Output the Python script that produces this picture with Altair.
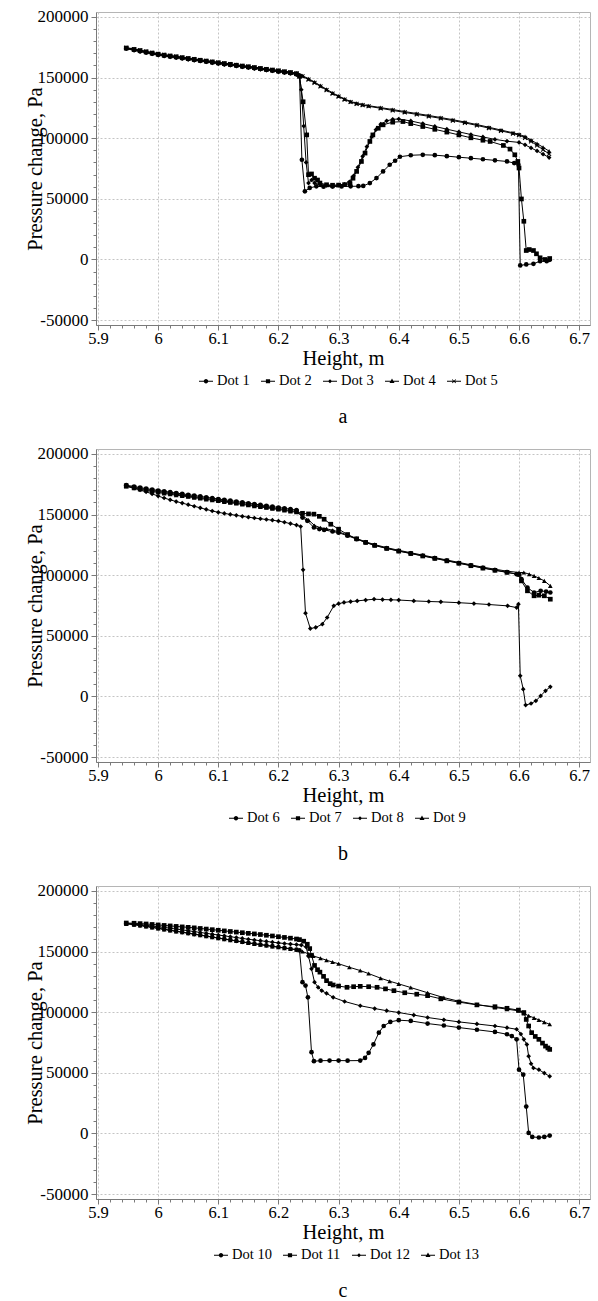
import altair as alt
import pandas as pd

FONT = "Liberation Serif"

# ---------------- shared x grid for the part before the first drop ----------------
pre_x = [5.947, 5.96, 5.97, 5.98, 5.99, 6.00, 6.01, 6.02, 6.03, 6.04, 6.05, 6.06, 6.07, 6.08,
         6.09, 6.10, 6.11, 6.12, 6.13, 6.14, 6.15, 6.16, 6.17, 6.18, 6.19, 6.20, 6.21, 6.22, 6.23]

# ---------------- panel a ----------------
a_pre_1 = [174000, 172700, 171700, 170700, 169700, 168800, 168000, 167300, 166600, 165900, 165200, 164500, 163800, 163100,
           162400, 161700, 161000, 160400, 159700, 159000, 158400, 157700, 157000, 156300, 155700, 155000, 154300, 153600, 152700]
a_pre_2 = [174300, 173100, 172100, 171100, 170100, 169200, 168400, 167700, 167000, 166300, 165600, 164900, 164200, 163500,
           162800, 162100, 161400, 160800, 160100, 159400, 158800, 158100, 157400, 156700, 156100, 155400, 154700, 154000, 153100]
a_pre_3 = [173700, 172400, 171400, 170400, 169400, 168500, 167700, 167000, 166300, 165600, 164900, 164200, 163500, 162800,
           162100, 161400, 160700, 160100, 159400, 158700, 158100, 157400, 156700, 156000, 155400, 154700, 154000, 153300, 152400]
a_pre_4 = [174600, 173600, 172600, 171600, 170600, 169700, 168900, 168200, 167500, 166800, 166100, 165400, 164700, 164000,
           163300, 162600, 161900, 161300, 160600, 159900, 159300, 158600, 157900, 157200, 156600, 155900, 155200, 154500, 153600]
a_pre_5 = [174400, 173300, 172300, 171300, 170300, 169400, 168600, 167900, 167200, 166500, 165800, 165100, 164400, 163700,
           163000, 162300, 161600, 161000, 160300, 159600, 159000, 158300, 157600, 156900, 156300, 155600, 154900, 154200, 153300]

dot1_x = [6.235, 6.239, 6.244, 6.252, 6.263, 6.275, 6.29, 6.305, 6.32, 6.333, 6.341, 6.352, 6.363, 6.374, 6.385, 6.394, 6.402,
          6.42, 6.44, 6.46, 6.48, 6.50, 6.52, 6.54, 6.56, 6.58, 6.592, 6.599, 6.602, 6.612, 6.624, 6.635, 6.646, 6.651]
dot1_y = [151500, 82200, 56200, 59000, 60300, 60000, 60100, 60200, 60300, 60400, 60600, 63000, 67100, 72600, 78100, 81400, 84700,
          85900, 86300, 86000, 85200, 84300, 83500, 82600, 81700, 80800, 79500, 78100, -4900, -4100, -3600, -1400, -1400, -300]

dot2_x = [6.235, 6.241, 6.247, 6.250, 6.255, 6.260, 6.265, 6.269, 6.28, 6.29, 6.30, 6.31, 6.319, 6.324, 6.33, 6.338, 6.344,
          6.352, 6.357, 6.366, 6.374, 6.39, 6.407, 6.42, 6.44, 6.46, 6.48, 6.50, 6.52, 6.54, 6.552, 6.574, 6.585, 6.593,
          6.598, 6.600, 6.604, 6.608, 6.612, 6.617, 6.624, 6.629, 6.635, 6.643, 6.651]
dot2_y = [151000, 130000, 102700, 69900, 70500, 67000, 65500, 63000, 61600, 61200, 61300, 61700, 62500, 67000, 72600, 80800,
          87700, 97300, 102700, 108200, 111000, 113200, 113700, 112000, 109600, 107300, 105000, 102700, 100300, 98300, 97300,
          94000, 91000, 86300, 80800, 75400, 49900, 31500, 7400, 8200, 7400, 4700, 1400, 0, 800]

dot3_x = [6.235, 6.238, 6.242, 6.246, 6.250, 6.255, 6.260, 6.27, 6.28, 6.29, 6.30, 6.31, 6.318, 6.325, 6.332, 6.34, 6.347,
          6.355, 6.362, 6.37, 6.38, 6.39, 6.40, 6.42, 6.44, 6.46, 6.48, 6.50, 6.52, 6.54, 6.56, 6.58, 6.60, 6.61, 6.62,
          6.63, 6.64, 6.65]
dot3_y = [151800, 140000, 110000, 80000, 63000, 65500, 63000, 61500, 61000, 61000, 61300, 62000, 64000, 69000, 76000, 85000,
          93000, 101000, 107000, 111500, 114300, 115500, 115800, 114200, 112000, 109700, 107400, 105200, 103000, 101000,
          99000, 97500, 96500, 94500, 92000, 89500, 86800, 84000]

dot45_x = [6.24, 6.25, 6.26, 6.27, 6.28, 6.29, 6.30, 6.31, 6.32, 6.33, 6.34, 6.35, 6.37, 6.39, 6.41, 6.43, 6.45, 6.47,
           6.49, 6.51, 6.53, 6.55, 6.57, 6.59, 6.60, 6.61, 6.62, 6.63, 6.64, 6.65]
dot4_y = [151500, 149000, 146300, 143300, 140300, 137300, 134800, 132300, 130300, 128800, 127700, 126800, 125200, 123600,
          121900, 120300, 118700, 117000, 115200, 113300, 111200, 109000, 106700, 104400, 103200, 101300, 98500, 95500,
          92500, 89300]
dot5_y = [151000, 148300, 145600, 142600, 139600, 136700, 134200, 131800, 129800, 128300, 127200, 126300, 124600, 122900,
          121200, 119600, 118000, 116300, 114500, 112600, 110500, 108300, 106000, 103800, 102500, 100300, 97300, 94000,
          90500, 87000]

# ---------------- panel b ----------------
b_pre_6 = [174200, 173000, 172100, 171300, 170500, 169800, 169100, 168400, 167700, 167000, 166300, 165600, 164900, 164200,
           163500, 162800, 162100, 161400, 160700, 160000, 159300, 158600, 157900, 157200, 156500, 155800, 155100, 154400, 153600]
b_pre_7 = [173600, 172300, 171400, 170500, 169700, 169000, 168200, 167500, 166800, 166000, 165300, 164600, 163900, 163200,
           162500, 161800, 161100, 160400, 159700, 159000, 158300, 157600, 156900, 156200, 155500, 154800, 154100, 153300, 152500]
b_pre_8 = [173600, 171700, 170200, 168700, 167000, 165200, 163600, 162100, 160700, 159400, 158100, 156800, 155500, 154200,
           152900, 151800, 150900, 150100, 149300, 148500, 147800, 147100, 146500, 145900, 145300, 144600, 143600, 142500, 141300]
b_pre_9 = [173200, 171700, 170700, 169800, 169000, 168200, 167400, 166700, 166000, 165300, 164600, 163900, 163200, 162500,
           161800, 161100, 160400, 159700, 159000, 158300, 157600, 156900, 156200, 155500, 154800, 154100, 153400, 152600, 151800]

dot6_x = [6.24, 6.248, 6.259, 6.268, 6.276, 6.29, 6.30, 6.315, 6.33, 6.345, 6.36, 6.38, 6.40, 6.42, 6.44, 6.46, 6.48, 6.50,
          6.52, 6.54, 6.56, 6.58, 6.596, 6.604, 6.614, 6.625, 6.636, 6.645, 6.652]
dot6_y = [147500, 144800, 139300, 138000, 137300, 136000, 135000, 132500, 129700, 127000, 124700, 122200, 120000, 118000,
          116000, 114000, 112000, 110000, 108000, 106000, 104200, 102400, 100800, 96700, 89800, 85700, 87100, 86500, 85700]

dot7_x = [6.24, 6.25, 6.259, 6.268, 6.276, 6.287, 6.30, 6.315, 6.33, 6.345, 6.36, 6.38, 6.40, 6.42, 6.44, 6.46, 6.48, 6.50,
          6.52, 6.54, 6.56, 6.58, 6.60, 6.604, 6.614, 6.625, 6.633, 6.642, 6.652]
dot7_y = [151000, 150500, 150300, 148500, 146100, 142000, 137900, 133500, 130000, 127000, 124500, 122000, 119800, 117800,
          115800, 113800, 111800, 109800, 107800, 105800, 104000, 102300, 100600, 95300, 87100, 83000, 83500, 83000, 80200]

dot8_x = [6.237, 6.241, 6.245, 6.253, 6.262, 6.273, 6.281, 6.292, 6.30, 6.309, 6.32, 6.331, 6.345, 6.359, 6.373, 6.387, 6.40,
          6.425, 6.45, 6.47, 6.50, 6.525, 6.55, 6.581, 6.596, 6.599, 6.602, 6.607, 6.611, 6.62, 6.628, 6.636, 6.644, 6.652]
dot8_y = [140100, 104400, 68700, 56000, 56900, 59600, 65100, 74700, 76500, 77500, 78200, 78800, 79500, 80200, 79900, 79700,
          79500, 78800, 78300, 78000, 77300, 76600, 75800, 74700, 73300, 76100, 17000, 6000, -7100, -5800, -3600, 500, 4700, 8000]

dot9_x = [6.24, 6.25, 6.26, 6.27, 6.28, 6.29, 6.30, 6.315, 6.33, 6.345, 6.36, 6.38, 6.40, 6.42, 6.44, 6.46, 6.48, 6.50,
          6.52, 6.54, 6.56, 6.58, 6.60, 6.608, 6.617, 6.625, 6.633, 6.642, 6.652]
dot9_y = [149000, 145500, 141000, 139000, 138200, 137000, 135800, 133000, 130200, 127500, 125200, 122700, 120500, 118500,
          116500, 114500, 112500, 110500, 108500, 106600, 104900, 103300, 102200, 102200, 100800, 99400, 97600, 95300, 91200]

# ---------------- panel c ----------------
c_pre_10 = [173000, 172300, 171600, 170800, 170000, 169200, 168400, 167600, 166800, 166000, 165200, 164400, 163600, 162800,
            162000, 161200, 160400, 159600, 158800, 158000, 157200, 156500, 155800, 155100, 154400, 153700, 153000, 152300, 151600]
c_pre_11 = [173500, 173300, 173000, 172700, 172300, 171900, 171500, 171100, 170700, 170300, 169900, 169500, 169000, 168500,
            168000, 167500, 167000, 166500, 166000, 165500, 165000, 164500, 164000, 163400, 162800, 162200, 161600, 161000, 160300]
c_pre_12 = [173200, 172700, 172200, 171600, 171000, 170400, 169800, 169200, 168500, 167800, 167100, 166400, 165700, 165000,
            164300, 163600, 162900, 162200, 161500, 160800, 160100, 159500, 158900, 158300, 157700, 157100, 156600, 156100, 155700]
c_pre_13 = [172800, 172100, 171400, 170600, 169800, 169000, 168200, 167400, 166600, 165800, 165000, 164200, 163400, 162600,
            161800, 161000, 160200, 159400, 158600, 157800, 157000, 156300, 155600, 154900, 154200, 153500, 152800, 152100, 151400]

dot10_x = [6.235, 6.24, 6.245, 6.249, 6.255, 6.259, 6.27, 6.285, 6.30, 6.315, 6.336, 6.344, 6.35, 6.358, 6.367, 6.375, 6.386,
           6.40, 6.42, 6.448, 6.475, 6.50, 6.53, 6.56, 6.58, 6.588, 6.596, 6.60, 6.607, 6.612, 6.616, 6.622, 6.633, 6.642, 6.651]
dot10_y = [151000, 124700, 121900, 112200, 67000, 59600, 60000, 60100, 60100, 60000, 60100, 62300, 66500, 73400, 83100, 88600,
           92000, 93400, 92800, 90600, 89000, 87300, 85500, 83700, 81800, 80300, 77600, 52600, 48500, 22200, 500, -2800, -3300,
           -2800, -1700]

dot11_x = [6.235, 6.242, 6.248, 6.252, 6.255, 6.26, 6.265, 6.269, 6.275, 6.28, 6.286, 6.291, 6.30, 6.314, 6.325, 6.336, 6.35,
           6.364, 6.378, 6.392, 6.41, 6.43, 6.448, 6.47, 6.50, 6.53, 6.56, 6.58, 6.599, 6.608, 6.612, 6.616, 6.621, 6.627,
           6.633, 6.639, 6.644, 6.648, 6.651]
dot11_y = [159800, 158500, 156000, 152400, 146800, 138500, 135000, 133000, 129500, 126000, 123500, 122400, 121500, 120500,
           121000, 121300, 121000, 120500, 119200, 117700, 116000, 114800, 113600, 111000, 108300, 106000, 104500, 103200,
           101700, 99700, 94000, 88600, 83100, 80000, 77600, 74500, 72000, 70500, 69300]

dot12_x = [6.238, 6.246, 6.25, 6.255, 6.26, 6.266, 6.272, 6.28, 6.291, 6.31, 6.336, 6.36, 6.38, 6.40, 6.425, 6.448, 6.475,
           6.50, 6.53, 6.56, 6.58, 6.596, 6.603, 6.608, 6.613, 6.616, 6.62, 6.624, 6.633, 6.642, 6.651]
dot12_y = [155300, 153700, 146000, 135700, 124700, 120500, 117700, 115500, 112200, 108800, 105300, 103000, 101200, 99700,
           97600, 95600, 93700, 92000, 90300, 88600, 87200, 85900, 82000, 77600, 73400, 63700, 57500, 54000, 52600, 49800, 47100]

dot13_x = [6.24, 6.25, 6.258, 6.27, 6.28, 6.29, 6.30, 6.318, 6.336, 6.35, 6.37, 6.385, 6.40, 6.42, 6.448, 6.475, 6.50, 6.53,
           6.56, 6.58, 6.599, 6.608, 6.616, 6.625, 6.633, 6.642, 6.651]
dot13_y = [150000, 148000, 146300, 144500, 142800, 141300, 139900, 137000, 134300, 131800, 128000, 125500, 123300, 120300,
           116000, 112000, 109000, 106300, 103900, 102500, 101100, 99000, 97000, 95300, 93600, 91800, 90000]

# ---------------- marker shapes (fill-only outlines) ----------------
X_SHAPE = "M-1,-0.7L-0.7,-1L1,0.7L0.7,1ZM-1,0.7L0.7,-1L1,-0.7L-0.7,1Z"
point_shapes = ["circle", "square", "diamond", "triangle-up", X_SHAPE]
LINE = "M-1,-0.07L1,-0.07L1,0.07L-1,0.07Z"
legend_shapes = [
    LINE + "M-0.32,0A0.32,0.32,0,1,1,0.32,0A0.32,0.32,0,1,1,-0.32,0Z",
    LINE + "M-0.3,-0.3L0.3,-0.3L0.3,0.3L-0.3,0.3Z",
    LINE + "M0,-0.3L0.3,0L0,0.3L-0.3,0Z",
    LINE + "M0,-0.38L0.36,0.24L-0.36,0.24Z",
    LINE + "M-0.3,-0.22L-0.22,-0.3L0.3,0.22L0.22,0.3ZM-0.3,0.22L0.22,-0.3L0.3,-0.22L-0.22,0.3Z",
]

XT = [round(5.9 + 0.02 * i, 2) for i in range(41)]
YT = list(range(-50000, 200001, 10000))
X_MAJOR = "abs(datum.value * 10 - round(datum.value * 10)) < 0.001"
Y_MAJOR = "datum.value % 50000 === 0"

W, H = 494, 313


def build_df(series):
    rows = []
    for name, xs, ys in series:
        assert len(xs) == len(ys), (name, len(xs), len(ys))
        for i, (x, y) in enumerate(zip(xs, ys)):
            rows.append({"series": name, "x": x, "y": y, "order": i})
    return pd.DataFrame(rows)


def panel(series, caption, legend_x):
    df = build_df(series)
    names = [s[0] for s in series]
    n = len(names)
    xaxis = alt.Axis(
        values=XT, labelExpr=f"{X_MAJOR} ? '' + round(datum.value * 10) / 10 : ''",
        tickSize={"condition": {"test": X_MAJOR, "value": 5}, "value": 3},
        gridOpacity={"condition": {"test": X_MAJOR, "value": 1}, "value": 0},
        grid=True, gridColor="#c4c4c4", gridDash=[2, 2], gridWidth=1,
        domainColor="#7a7a7a", tickColor="#7a7a7a", tickWidth=1,
        labelFont=FONT, labelFontSize=16.5, labelColor="black", labelPadding=0,
        labelFlush=False, labelOverlap=False, labelBound=False,
        title="Height, m", titleFont=FONT, titleFontSize=20.5, titleFontWeight="normal",
        titleColor="black", titleY=33, titleBaseline="middle",
    )
    yaxis = alt.Axis(
        values=YT, labelExpr=f"{Y_MAJOR} ? '' + datum.value : ''",
        tickSize={"condition": {"test": Y_MAJOR, "value": 5}, "value": 3},
        gridOpacity={"condition": {"test": Y_MAJOR, "value": 1}, "value": 0},
        grid=True, gridColor="#c4c4c4", gridDash=[2, 2], gridWidth=1,
        domainColor="#7a7a7a", tickColor="#7a7a7a", tickWidth=1,
        labelFont=FONT, labelFontSize=17, labelColor="black", labelPadding=3,
        labelFlush=False, labelOverlap=False, labelBound=False,
        title="Pressure change, Pa", titleFont=FONT, titleFontSize=20.5, titleFontWeight="normal",
        titleColor="black", titleX=-61, titleY=H / 2, titleAngle=270, titleBaseline="middle",
        titleAlign="center",
    )
    xenc = alt.X("x:Q", scale=alt.Scale(domain=[5.8967, 6.718], nice=False, zero=False), axis=xaxis)
    yenc = alt.Y("y:Q", scale=alt.Scale(domain=[-54000, 204000], nice=False, zero=False), axis=yaxis)
    base = alt.Chart(df)
    line = base.mark_line(color="black", strokeWidth=1).encode(
        x=xenc, y=yenc, detail="series:N", order="order:Q")
    pts = base.mark_point(filled=True, color="black", size=22, opacity=1).encode(
        x=xenc, y=yenc,
        shape=alt.Shape("series:N", scale=alt.Scale(domain=names, range=point_shapes[:n]), legend=None))
    leg = base.transform_filter("datum.y > 1e9").mark_point(
        filled=True, color="black", opacity=1).encode(
        x=xenc, y=yenc,
        shape=alt.Shape("series:N", scale=alt.Scale(domain=names, range=legend_shapes[:n]),
                        legend=alt.Legend(title=None, orient="none", legendX=legend_x, legendY=361,
                                          direction="horizontal", symbolSize=196,
                                          symbolFillColor="black", symbolOpacity=1,
                                          labelFont=FONT, labelFontSize=14.5, labelColor="black",
                                          labelOffset=3, columnPadding=8)))
    return alt.layer(line, pts, leg).resolve_scale(shape="independent").properties(
        width=W, height=H,
        title=alt.TitleParams(caption, orient="bottom", anchor="middle", frame="group",
                              font=FONT, fontSize=20, fontWeight="normal", color="black", offset=19),
    )


pa = panel([("Dot 1", pre_x + dot1_x, a_pre_1 + dot1_y),
            ("Dot 2", pre_x + dot2_x, a_pre_2 + dot2_y),
            ("Dot 3", pre_x + dot3_x, a_pre_3 + dot3_y),
            ("Dot 4", pre_x + dot45_x, a_pre_4 + dot4_y),
            ("Dot 5", pre_x + dot45_x, a_pre_5 + dot5_y)], "a", 102)

pb = panel([("Dot 6", pre_x + dot6_x, b_pre_6 + dot6_y),
            ("Dot 7", pre_x + dot7_x, b_pre_7 + dot7_y),
            ("Dot 8", pre_x + dot8_x, b_pre_8 + dot8_y),
            ("Dot 9", pre_x + dot9_x, b_pre_9 + dot9_y)], "b", 132)

pc = panel([("Dot 10", pre_x + dot10_x, c_pre_10 + dot10_y),
            ("Dot 11", pre_x + dot11_x, c_pre_11 + dot11_y),
            ("Dot 12", pre_x + dot12_x, c_pre_12 + dot12_y),
            ("Dot 13", pre_x + dot13_x, c_pre_13 + dot13_y)], "c", 117)

chart = alt.vconcat(pa, pb, pc, spacing=16).resolve_scale(shape="independent").properties(
    padding={"left": 24, "top": 7, "right": 4, "bottom": 1}
).configure(background="white", font=FONT).configure_view(
    stroke="#b5b5b5", strokeWidth=1
).configure_axis(labelFont=FONT, titleFont=FONT).configure_legend(labelFont=FONT).configure_title(font=FONT)

chart.save("out.html", embed_options={"renderer": "svg", "actions": False})
